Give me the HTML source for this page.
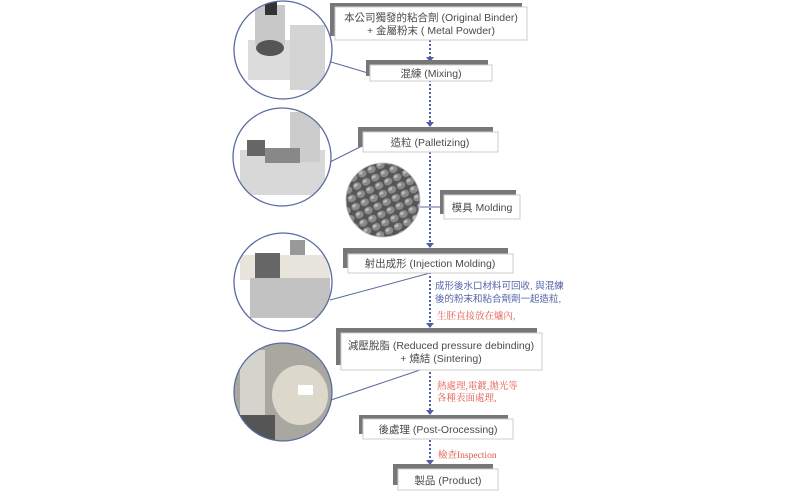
<!DOCTYPE html>
<html><head><meta charset="utf-8"><style>
html,body{margin:0;padding:0;background:#fff;}
svg{display:block;}
text{font-family:"Liberation Sans","Noto Sans CJK TC",sans-serif;font-size:10.5px;fill:#4a4a4a;}
.r{fill:#e0584a;font-family:"Liberation Serif","Noto Serif CJK SC",serif;font-size:9.5px;}
.b{fill:#5564a8;font-size:9.5px;}
</style></head><body>
<svg width="800" height="500" viewBox="0 0 800 500" xmlns="http://www.w3.org/2000/svg">
<defs>
<clipPath id="c1"><circle cx="283" cy="50" r="49"/></clipPath>
<clipPath id="c2"><circle cx="282" cy="157" r="49"/></clipPath>
<clipPath id="c3"><circle cx="283" cy="282" r="49"/></clipPath>
<clipPath id="c4"><circle cx="283" cy="392" r="49"/></clipPath>
<pattern id="pel" width="10" height="9" patternUnits="userSpaceOnUse" patternTransform="rotate(-25)">
<rect width="10" height="9" fill="#555"/><ellipse cx="5" cy="4.5" rx="4.4" ry="3.8" fill="#8a8a8a"/><ellipse cx="4" cy="3.3" rx="2" ry="1.5" fill="#bbb"/>
</pattern>
</defs>
<g stroke="#5a6aa0" stroke-width="1" fill="none">
<line x1="331" y1="62" x2="368" y2="73"/>
<line x1="330" y1="162" x2="362" y2="146"/>
<line x1="420" y1="207" x2="444" y2="207"/>
<line x1="330" y1="300" x2="430" y2="273"/>
<line x1="331" y1="400" x2="420" y2="370"/>
</g>
<g clip-path="url(#c1)"><rect x="230" y="0" width="110" height="100" fill="#fff"/>
<rect x="248" y="40" width="50" height="40" fill="#dcdcdc"/><rect x="255" y="5" width="30" height="40" fill="#c8c8c8"/>
<rect x="290" y="25" width="35" height="65" fill="#d4d4d4"/><ellipse cx="270" cy="48" rx="14" ry="8" fill="#555"/><rect x="265" y="0" width="12" height="15" fill="#333"/></g>
<circle cx="283" cy="50" r="49" fill="none" stroke="#5a6aa0" stroke-width="1.3"/>
<g clip-path="url(#c2)"><rect x="230" y="105" width="110" height="110" fill="#fff"/>
<rect x="240" y="150" width="85" height="45" fill="#d8d8d8"/><rect x="290" y="112" width="30" height="50" fill="#cccccc"/>
<rect x="247" y="140" width="18" height="16" fill="#666"/><rect x="265" y="148" width="35" height="15" fill="#888"/></g>
<circle cx="282" cy="157" r="49" fill="none" stroke="#5a6aa0" stroke-width="1.3"/>
<circle cx="383" cy="200" r="37" fill="url(#pel)"/>
<circle cx="383" cy="200" r="37" fill="none" stroke="#bbb" stroke-width="0.8"/>
<g clip-path="url(#c3)"><rect x="230" y="230" width="110" height="110" fill="#fff"/>
<rect x="240" y="255" width="90" height="25" fill="#e8e6dc"/><rect x="250" y="278" width="80" height="40" fill="#c2c2c2"/>
<rect x="255" y="253" width="25" height="25" fill="#666"/><rect x="290" y="240" width="15" height="15" fill="#999"/></g>
<circle cx="283" cy="282" r="49" fill="none" stroke="#5a6aa0" stroke-width="1.3"/>
<g clip-path="url(#c4)"><rect x="230" y="340" width="110" height="110" fill="#a8a8a0"/>
<rect x="240" y="350" width="25" height="80" fill="#d4d4cc"/><ellipse cx="300" cy="395" rx="28" ry="30" fill="#dcd8cc"/>
<rect x="298" y="385" width="15" height="10" fill="#fff"/><rect x="235" y="415" width="40" height="30" fill="#555"/></g>
<circle cx="283" cy="392" r="49" fill="none" stroke="#5a6aa0" stroke-width="1.3"/>
<line x1="430" y1="40" x2="430" y2="466" stroke="#5060a8" stroke-width="2" stroke-dasharray="2,2"/>
<g fill="#5060a8">
<polygon points="426,57 434,57 430,62"/><polygon points="426,122 434,122 430,127"/>
<polygon points="426,243 434,243 430,248"/><polygon points="426,323 434,323 430,328"/>
<polygon points="426,410 434,410 430,415"/><polygon points="426,460 434,460 430,465"/>
</g>
<g>
<rect x="330" y="3" width="192" height="33" fill="#777"/><rect x="335" y="7" width="192" height="33" fill="#fff" stroke="#ccc"/>
<text x="431" y="21" text-anchor="middle">本公司獨發的粘合劑 (Original Binder)</text>
<text x="431" y="34" text-anchor="middle">+ 金屬粉末 ( Metal Powder)</text>
<rect x="366" y="60" width="122" height="16" fill="#777"/><rect x="370" y="65" width="122" height="16" fill="#fff" stroke="#ccc"/>
<text x="431" y="77" text-anchor="middle">混練 (Mixing)</text>
<rect x="358" y="127" width="135" height="20" fill="#777"/><rect x="363" y="132" width="135" height="20" fill="#fff" stroke="#ccc"/>
<text x="430" y="146" text-anchor="middle">造粒 (Palletizing)</text>
<rect x="440" y="190" width="76" height="24" fill="#777"/><rect x="444" y="195" width="76" height="24" fill="#fff" stroke="#ccc"/>
<text x="482" y="211" text-anchor="middle">模具 Molding</text>
<rect x="343" y="248" width="165" height="20" fill="#777"/><rect x="348" y="254" width="165" height="19" fill="#fff" stroke="#ccc"/>
<text x="430" y="267" text-anchor="middle">射出成形 (Injection Molding)</text>
<rect x="336" y="328" width="201" height="37" fill="#777"/><rect x="341" y="333" width="201" height="37" fill="#fff" stroke="#ccc"/>
<text x="441" y="349" text-anchor="middle">減壓脫脂 (Reduced pressure debinding)</text>
<text x="441" y="362" text-anchor="middle">+ 燒結 (Sintering)</text>
<rect x="359" y="415" width="149" height="19" fill="#777"/><rect x="363" y="419" width="150" height="20" fill="#fff" stroke="#ccc"/>
<text x="438" y="433" text-anchor="middle">後處理 (Post-Orocessing)</text>
<rect x="393" y="464" width="100" height="21" fill="#777"/><rect x="398" y="469" width="100" height="21" fill="#fff" stroke="#ccc"/>
<text x="448" y="484" text-anchor="middle">製品 (Product)</text>
</g>
<text class="b" x="435" y="289">成形後水口材料可回收, 與混練</text>
<text class="b" x="435" y="302">後的粉末和粘合劑劑一起造粒,</text>
<text class="r" x="437" y="319">生胚直接放在爐內,</text>
<text class="r" x="437" y="389">熱處理,電鍍,拋光等</text>
<text class="r" x="437" y="401">各種表面處理,</text>
<text class="r" x="438" y="458">檢查Inspection</text>
</svg>
</body></html>
